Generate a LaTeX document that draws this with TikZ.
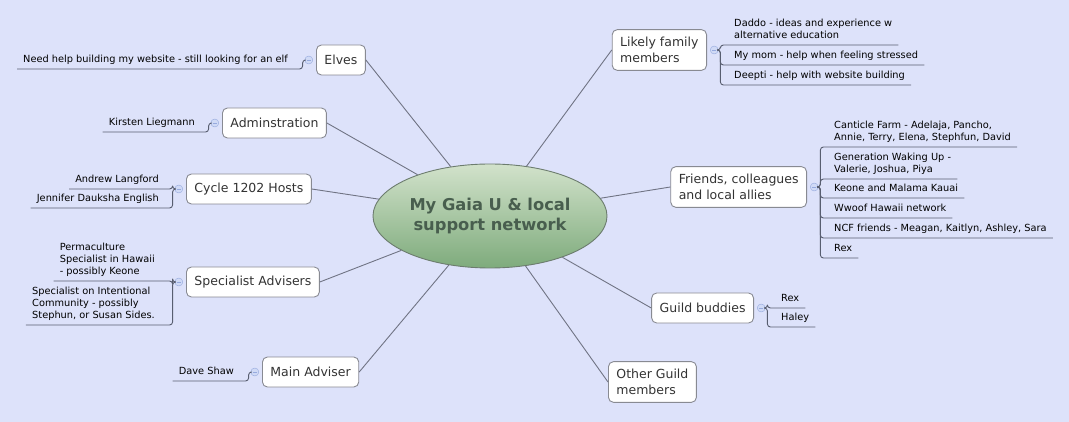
\documentclass[tikz,border=0pt]{standalone}
\usepackage{fontspec}
\setmainfont{DejaVu Sans}
\usetikzlibrary{positioning,shapes.geometric}
\definecolor{paper}{RGB}{221,226,250}
\definecolor{wire}{RGB}{112,116,132}
\definecolor{twigline}{RGB}{88,94,112}
\definecolor{rim}{RGB}{136,138,146}
\definecolor{knobfill}{RGB}{208,218,246}
\definecolor{knobline}{RGB}{150,170,222}
\definecolor{moss}{RGB}{72,94,78}
\definecolor{hubtop}{RGB}{210,226,203}
\definecolor{hubbottom}{RGB}{126,171,124}
\definecolor{hubrim}{RGB}{108,124,110}
\tikzset{
map/.style = { x = 1pt, y = -1pt, line join = round },
hub/.style = { ellipse, draw = hubrim, line width = 0.9pt, top color = hubtop, bottom color = hubbottom,
	minimum width = 234pt, minimum height = 104pt, inner sep = 0pt, align = center, text = moss,
	font = \fontsize{16.3}{19.5}\selectfont\bfseries },
topic/.style = { rectangle, rounded corners = 5pt, draw = rim, line width = 0.9pt, fill = white, minimum height = 30pt,
	inner xsep = 8pt, inner ysep = 7.5pt, align = left, font = \fontsize{12.5}{16}\selectfont, text = black!80 },
item/.style = { inner xsep = 6pt, inner ysep = 3.5pt, text depth = 2.4pt, align = left,
	font = \fontsize{9.8}{12}\selectfont },
knob/.style = { circle, draw = knobline, fill = knobfill, minimum size = 8pt, inner sep = 0pt,
	path picture = { \draw[knobline] ([xshift = 2pt]path picture bounding box.west) -- ([xshift = -2pt]path picture bounding box.east); } },
branch/.style = { draw = wire, line width = 0.9pt },
twig/.style = { draw = twigline, line width = 0.9pt, rounded corners = 3pt }
}

\begin{document}
\begin{tikzpicture}[map]
	\useasboundingbox[fill = paper] (0,0) rectangle (1069,422);

	% centre
	\node[hub] (gaia) at (490,216) {My Gaia U \& local\\support network};

	% topics on the left
	\node[topic, anchor = west] (elves) at (316,60) {Elves};
	\node[topic, anchor = west] (admin) at (222,123) {Adminstration};
	\node[topic, anchor = west] (hosts) at (186,189) {Cycle 1202 Hosts};
	\node[topic, anchor = west] (advisers) at (186,282) {Specialist Advisers};
	\node[topic, anchor = west] (mainadv) at (262,372) {Main Adviser};

	% topics on the right
	\node[topic, anchor = east] (family) at (707,50) {Likely family\\members};
	\node[topic, anchor = east] (friends) at (807,187) {Friends, colleagues\\and local allies};
	\node[topic, anchor = east] (buddies) at (754,308) {Guild buddies};
	\node[topic, anchor = west] (others) at (608,382) {Other Guild\\members};

	\foreach \t in {elves, admin, hosts, advisers, mainadv}
		\draw[branch] (gaia) -- (\t.east);
	\foreach \t in {family, friends, buddies, others}
		\draw[branch] (gaia) -- (\t.west);

	% knobs
	\node[knob, left = 3pt of elves] (elvesknob) {};
	\node[knob, left = 3pt of admin] (adminknob) {};
	\node[knob, left = 3pt of hosts] (hostsknob) {};
	\node[knob, left = 3pt of advisers] (advisersknob) {};
	\node[knob, left = 3pt of mainadv] (mainadvknob) {};
	\node[knob, right = 3pt of family] (familyknob) {};
	\node[knob, right = 3pt of friends] (friendsknob) {};
	\node[knob, right = 3pt of buddies] (buddiesknob) {};

	% items on the left
	\node[item, anchor = south east] (elf) at (294,69) {Need help building my website - still looking for an elf};
	\node[item, anchor = south east] (kirsten) at (201,132) {Kirsten Liegmann};
	\node[item, anchor = south east] (andrew) at (165,189) {Andrew Langford};
	\node[item, anchor = south east] (jennifer) at (165,208) {Jennifer Dauksha English};
	\node[item, anchor = south east] (permaculture) at (161,281) {Permaculture\\Specialist in Hawaii\\- possibly Keone};
	\node[item, anchor = south east] (intentional) at (161,325) {Specialist on Intentional\\Community - possibly\\Stephun, or Susan Sides.};
	\node[item, anchor = south east] (dave) at (240,381) {Dave Shaw};

	% items on the right
	\node[item, anchor = south west] (daddo) at (728,45) {Daddo - ideas and experience w\\alternative education};
	\node[item, anchor = south west] (mom) at (728,65) {My mom - help when feeling stressed};
	\node[item, anchor = south west] (deepti) at (728,85) {Deepti - help with website building};
	\node[item, anchor = south west] (canticle) at (828,147) {Canticle Farm - Adelaja, Pancho,\\Annie, Terry, Elena, Stephfun, David};
	\node[item, anchor = south west] (waking) at (828,179) {Generation Waking Up -\\Valerie, Joshua, Piya};
	\node[item, anchor = south west] (keone) at (828,198) {Keone and Malama Kauai};
	\node[item, anchor = south west] (wwoof) at (828,218) {Wwoof Hawaii network};
	\node[item, anchor = south west] (ncf) at (828,238) {NCF friends - Meagan, Kaitlyn, Ashley, Sara};
	\node[item, anchor = south west] (rexfriend) at (828,258) {Rex};
	\node[item, anchor = south west] (rexguild) at (775,308) {Rex};
	\node[item, anchor = south west] (haley) at (775,327) {Haley};

	% twigs
	\draw[twig] (elvesknob.west) -- ++(-2,0) |- (elf.south west);
	\draw[twig] (adminknob.west) -- ++(-2,0) |- (kirsten.south west);
	\foreach \c in {andrew, jennifer}
		\draw[twig] (hostsknob.west) -- ++(-2,0) |- (\c.south west);
	\foreach \c in {permaculture, intentional}
		\draw[twig] (advisersknob.west) -- ++(-2,0) |- (\c.south west);
	\draw[twig] (mainadvknob.west) -- ++(-2,0) |- (dave.south west);
	\foreach \c in {daddo, mom, deepti}
		\draw[twig] (familyknob.east) -- ++(2,0) |- (\c.south east);
	\foreach \c in {canticle, waking, keone, wwoof, ncf, rexfriend}
		\draw[twig] (friendsknob.east) -- ++(2,0) |- (\c.south east);
	\foreach \c in {rexguild, haley}
		\draw[twig] (buddiesknob.east) -- ++(2,0) |- (\c.south east);
\end{tikzpicture}
\end{document}
